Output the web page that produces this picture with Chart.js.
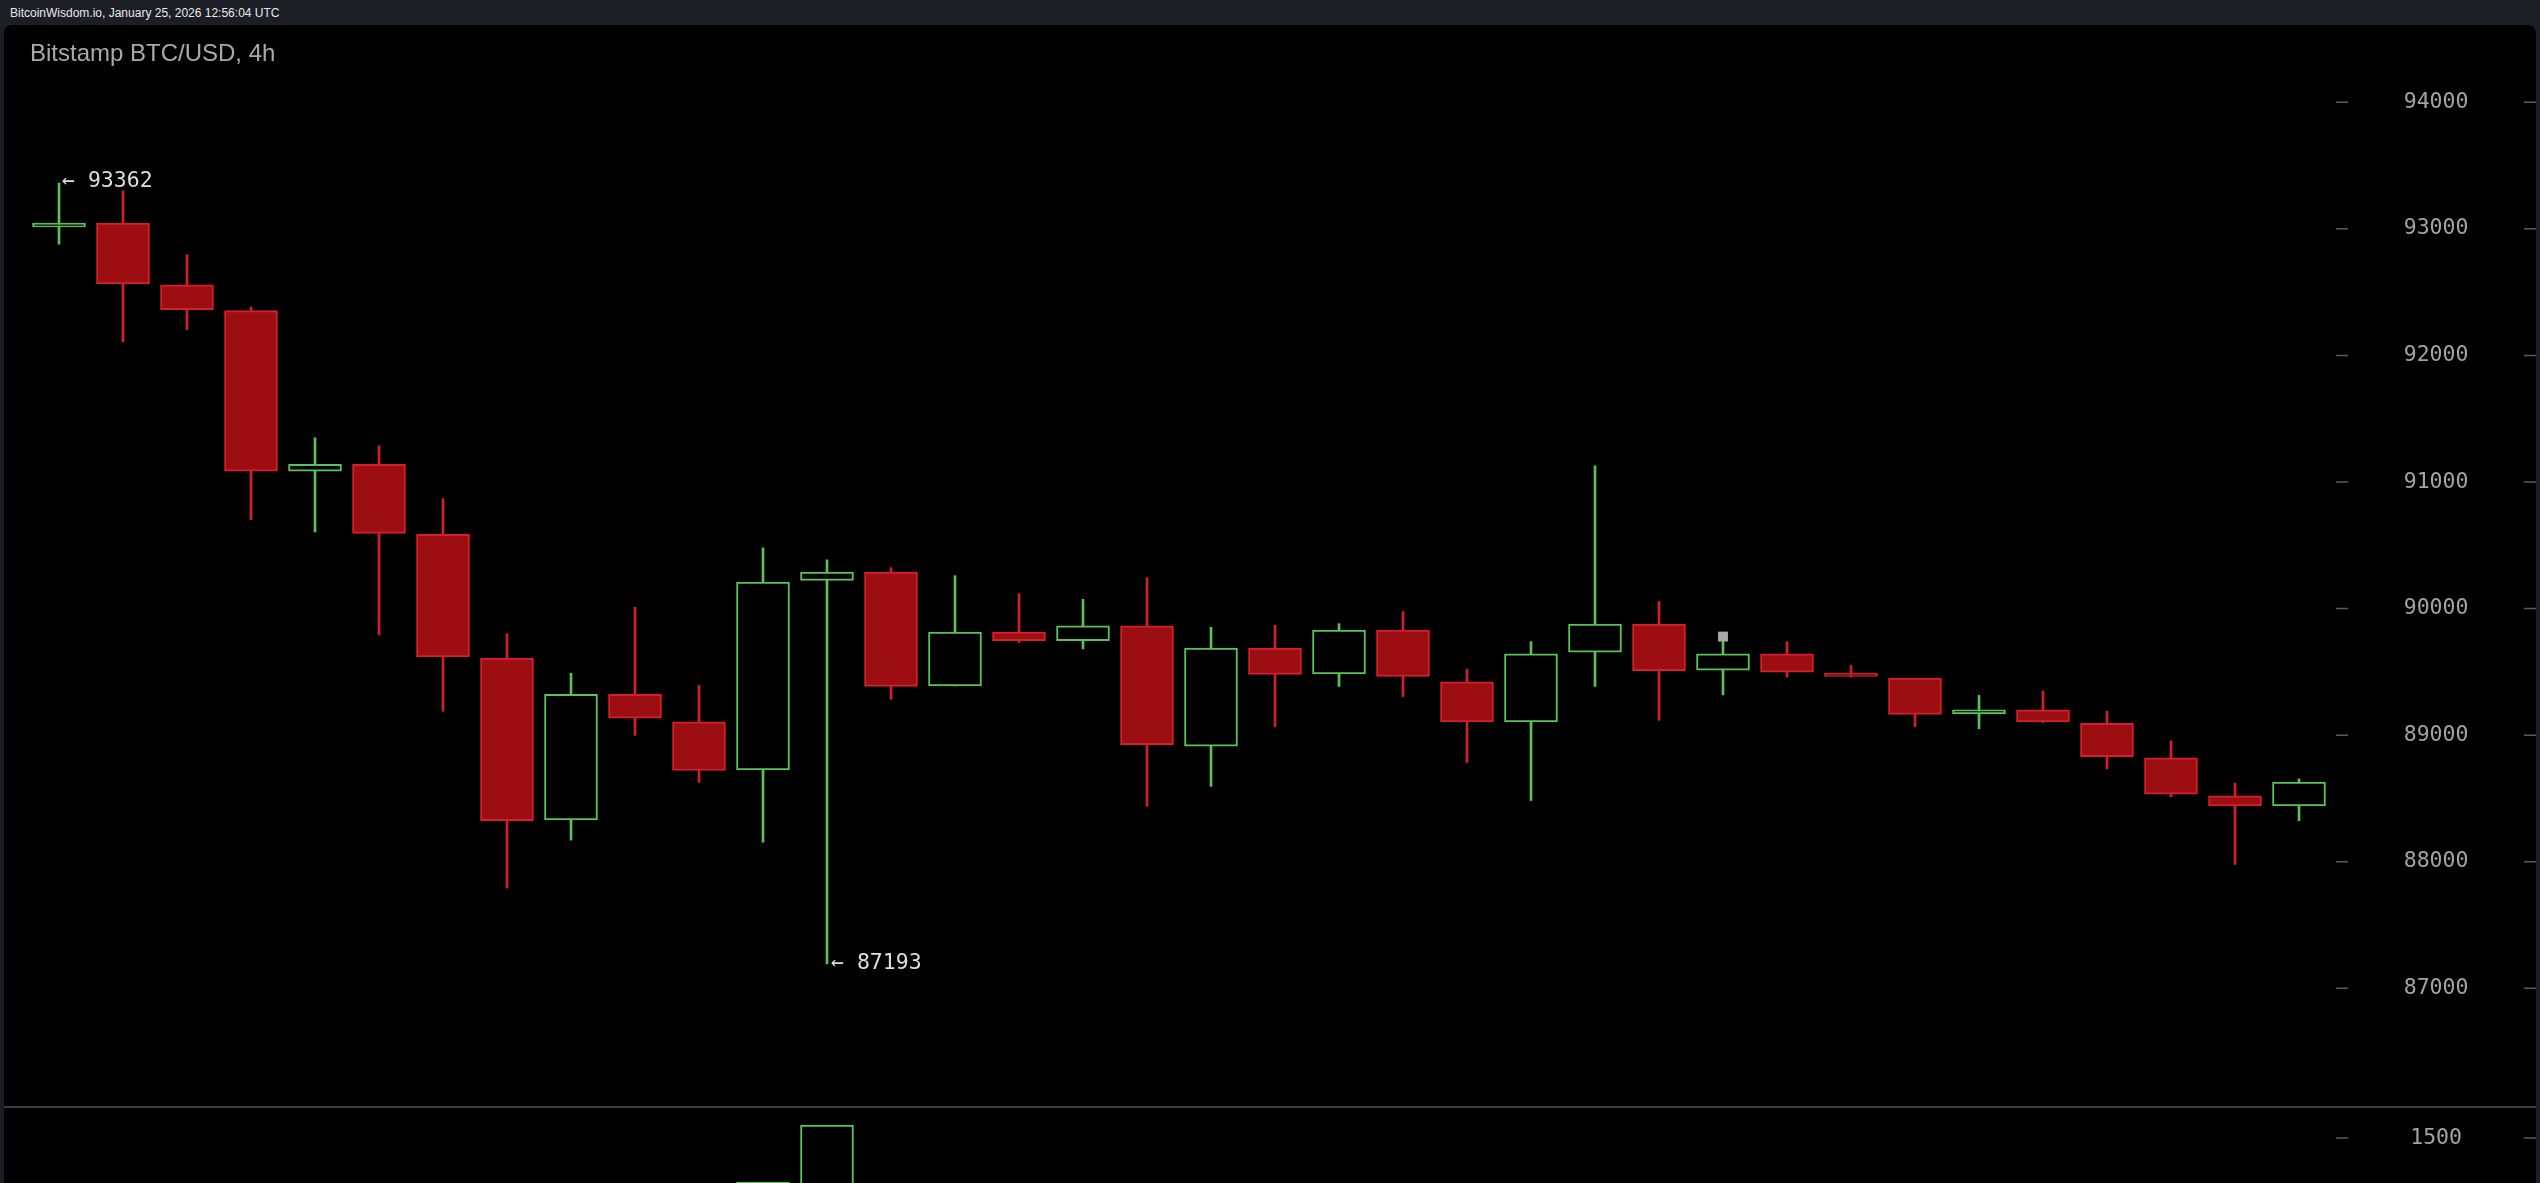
<!DOCTYPE html>
<html>
<head>
<meta charset="utf-8">
<script src="https://cdn.jsdelivr.net/npm/chart.js@4.4.1/dist/chart.umd.min.js"></script>
<style>
html,body{margin:0;padding:0;width:2540px;height:1183px;overflow:hidden;background:#1b1e25;}
#hdr{position:absolute;left:10px;top:6px;font:12px/15px "Liberation Sans",Arial,sans-serif;color:#e8e8e8;white-space:nowrap;}
#panel{position:absolute;left:4px;top:25px;width:2532px;height:1200px;background:#000;border-radius:8px 8px 0 0;}
#title{position:absolute;left:30px;top:41px;font:24px/24px "Liberation Sans",Arial,sans-serif;color:#a9a9a9;white-space:nowrap;z-index:5;}
#priceCanvas{position:absolute;left:0;top:0;z-index:2;}
#volWrap{position:absolute;left:4px;top:1106px;width:2532px;height:300px;background:#000;border-top:2px solid #3e3e3e;z-index:3;}
#volCanvas{position:absolute;left:0;top:1108px;z-index:4;}
</style>
</head>
<body>
<div id="hdr">BitcoinWisdom.io, January 25, 2026 12:56:04 UTC</div>
<div id="panel"></div>
<div id="title">Bitstamp BTC/USD, 4h</div>
<canvas id="priceCanvas" width="2540" height="1140"></canvas>
<div id="volWrap"></div>
<canvas id="volCanvas" width="2540" height="200"></canvas>
<script>
// ---- data (4h candles) ----
const categories = [
  '01-19 16:00','01-19 20:00',
  '01-20 00:00','01-20 04:00','01-20 08:00','01-20 12:00','01-20 16:00','01-20 20:00',
  '01-21 00:00','01-21 04:00','01-21 08:00','01-21 12:00','01-21 16:00','01-21 20:00',
  '01-22 00:00','01-22 04:00','01-22 08:00','01-22 12:00','01-22 16:00','01-22 20:00',
  '01-23 00:00','01-23 04:00','01-23 08:00','01-23 12:00','01-23 16:00','01-23 20:00',
  '01-24 00:00','01-24 04:00','01-24 08:00','01-24 12:00','01-24 16:00','01-24 20:00',
  '01-25 00:00','01-25 04:00','01-25 08:00','01-25 12:00'
];
const opens  = [93015,93046,92558,92354,91086,91140,90586,89610,88330,89322,89105,88726,
                90223,90289,89389,89814,89747,89864,88913,89689,89485,89831,89422,89105,
                89656,89877,89514,89643,89489,89451,89168,89201,89093,88822,88521,88442];
const highs  = [93362,93300,92796,92383,91349,91286,90869,89801,89489,90010,89393,90481,
                90385,90323,90260,90118,90073,90244,89852,89868,89881,89977,89522,89739,
                91128,90056,89780,89739,89551,89451,89314,89347,89189,88955,88621,88655];
const lows   = [92879,92108,92203,90702,90606,89793,89189,87792,88171,88999,88626,88154,
                87193,89284,89389,89731,89681,88438,88596,89068,89385,89305,88784,88484,
                89385,89118,89318,89460,89460,89068,89051,89100,88734,88513,87979,88325];
const closes = [93045,92566,92362,91086,91140,90594,89618,88325,89322,89134,88721,90210,
                90289,89385,89814,89747,89864,88926,89689,89481,89831,89464,89105,89643,
                89877,89510,89643,89497,89464,89164,89201,89105,88830,88534,88442,88630];
// volume: only the two bars that reach into the visible part of the volume pane
const volumes = [null,null,null,null,null,null,null,null,null,null,null,1060,
                 1630,null,null,null,null,null,null,null,null,null,null,null,
                 null,null,null,null,null,null,null,null,null,null,null,null];
const priceTicks = [87000,88000,89000,90000,91000,92000,93000,94000];
const volumeTicks = [1500];
const markerPoints = [[26, 89779]];

// ---- styles ----
const RED_FILL = '#9d0e12', RED_LINE = '#d2212a', GREEN_LINE = '#5dc15b', BLACK = '#000000';
const isUp = opens.map((o, i) => closes[i] >= o);
const MONO = '"DejaVu Sans Mono", monospace';

const edgeTicks = {
  id: 'edgeTicks',
  afterDraw(chart) {
    const s = chart.scales.y, ctx = chart.ctx, r = chart.chartArea.right;
    ctx.save();
    ctx.strokeStyle = '#5a5a5a';
    ctx.lineWidth = 1.5;
    s.ticks.forEach(t => {
      const y = s.getPixelForValue(t.value);
      ctx.beginPath();
      ctx.moveTo(r + 5, y); ctx.lineTo(r + 17, y);
      ctx.moveTo(r + 193, y); ctx.lineTo(r + 205, y);
      ctx.stroke();
    });
    ctx.restore();
  }
};

const extremes = {
  id: 'extremes',
  afterDatasetsDraw(chart) {
    const xs = chart.scales.x, ys = chart.scales.y, ctx = chart.ctx;
    const hi = Math.max(...highs), lo = Math.min(...lows);
    const hiI = highs.indexOf(hi), loI = lows.indexOf(lo);
    ctx.save();
    ctx.font = '21.5px ' + MONO;
    ctx.fillStyle = '#dedede';
    ctx.textBaseline = 'middle';
    ctx.textAlign = 'left';
    ctx.fillText('\u2190 ' + hi, xs.getPixelForValue(hiI) + 3, ys.getPixelForValue(hi) - 2);
    ctx.fillText('\u2190 ' + lo, xs.getPixelForValue(loI) + 4, ys.getPixelForValue(lo));
    ctx.restore();
  }
};

function yAxis(min, max, ticksArr, offsetX) {
  return {
    position: 'right',
    min: min, max: max,
    afterFit: s => { s.width = 209; },
    afterBuildTicks: s => { s.ticks = ticksArr.map(v => ({ value: v })); },
    grid: {
      display: true,
      drawOnChartArea: false,
      drawTicks: true,
      tickLength: offsetX,
      tickColor: 'rgba(0,0,0,0)'
    },
    border: { display: false },
    ticks: {
      color: '#a3a3a3',
      font: { family: MONO, size: 21.5 },
      crossAlign: 'center',
      padding: 0,
      callback: v => String(v)
    }
  };
}

new Chart(document.getElementById('priceCanvas'), {
  type: 'bar',
  data: {
    labels: categories,
    datasets: [
      {
        type: 'line',
        data: markerPoints.map(p => ({ x: categories[p[0]], y: p[1] })),
        showLine: false,
        pointStyle: 'rect',
        pointRadius: 7,
        pointBackgroundColor: '#a8a8a8',
        pointBorderWidth: 0,
        order: -1
      },
      {
        data: opens.map((o, i) => [o, closes[i]]),
        backgroundColor: isUp.map(u => u ? BLACK : RED_FILL),
        borderColor: isUp.map(u => u ? GREEN_LINE : RED_LINE),
        borderWidth: 2,
        borderSkipped: false,
        barThickness: 53,
        grouped: false,
        order: 0
      },
      {
        data: lows.map((l, i) => [l, highs[i]]),
        backgroundColor: isUp.map(u => u ? GREEN_LINE : RED_LINE),
        borderWidth: 0,
        barThickness: 2,
        grouped: false,
        order: 1
      }
    ]
  },
  options: {
    responsive: false,
    animation: false,
    devicePixelRatio: 1,
    layout: { padding: { left: 27, top: 39, right: 0, bottom: 39 } },
    plugins: { legend: { display: false }, tooltip: { enabled: false } },
    scales: {
      x: { display: false, offset: true },
      y: yAxis(86110, 94500, priceTicks, 72.7)
    }
  },
  plugins: [edgeTicks, extremes]
});

new Chart(document.getElementById('volCanvas'), {
  type: 'bar',
  data: {
    labels: categories,
    datasets: [{
      data: volumes,
      backgroundColor: isUp.map(u => u ? BLACK : RED_FILL),
      borderColor: isUp.map(u => u ? GREEN_LINE : RED_LINE),
      borderWidth: 2,
      borderSkipped: false,
      barThickness: 53
    }]
  },
  options: {
    responsive: false,
    animation: false,
    devicePixelRatio: 1,
    layout: { padding: { left: 27, top: 14, right: 0, bottom: 20 } },
    plugins: { legend: { display: false }, tooltip: { enabled: false } },
    scales: {
      x: { display: false, offset: true },
      y: yAxis(0, 1660, volumeTicks, 79.2)
    }
  },
  plugins: [edgeTicks]
});
</script>
</body>
</html>
